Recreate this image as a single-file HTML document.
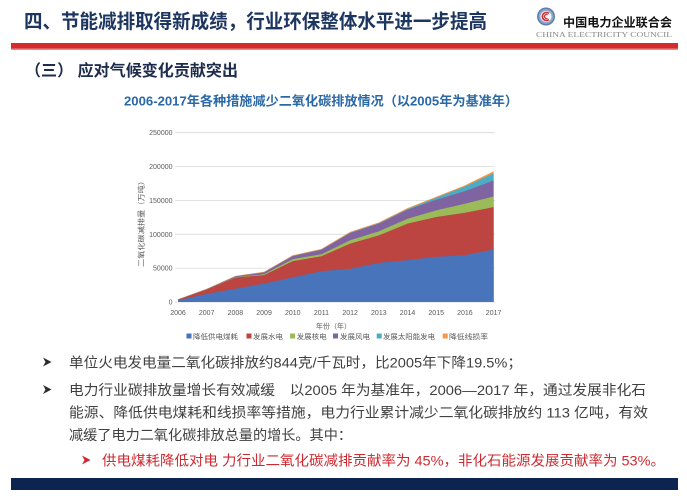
<!DOCTYPE html>
<html>
<head>
<meta charset="utf-8">
<style>
  html,body{margin:0;padding:0;background:#fff;}
  svg{display:block;}
  .cjk{font-family:"Liberation Sans","Noto Sans CJK SC",sans-serif;}
  .ax{font-family:"Liberation Sans","Noto Sans CJK SC",sans-serif;font-size:7px;fill:#595959;}
</style>
</head>
<body>
<svg width="687" height="501" viewBox="0 0 687 501" xmlns="http://www.w3.org/2000/svg">
  <rect x="0" y="0" width="687" height="501" fill="#ffffff"/>

  <!-- Header title -->
  <text class="cjk" x="24" y="27.8" font-size="19.5" font-weight="bold" fill="#1d3660" textLength="463" lengthAdjust="spacingAndGlyphs">四、节能减排取得新成绩，行业环保整体水平进一步提高</text>

  <!-- Logo -->
  <circle cx="546" cy="16.5" r="9" fill="#5b7eae"/>
  <circle cx="546" cy="16.5" r="7.5" fill="#8fa7c8"/>
  <circle cx="546" cy="16.5" r="5.5" fill="#f4f4f4"/>
  <path d="M549 13.5 A4 4 0 1 0 549 19.5" fill="none" stroke="#c8323a" stroke-width="1.6"/>
  <path d="M547.5 14.8 A2 2 0 1 0 547.5 18.2" fill="none" stroke="#c8323a" stroke-width="1.2"/>
  <text class="cjk" x="563" y="26.5" font-size="12" font-weight="bold" fill="#111" textLength="109" lengthAdjust="spacingAndGlyphs">中国电力企业联合会</text>
  <text x="536" y="37.2" font-family="'Liberation Serif',serif" font-size="7.5" fill="#8a8a8a" textLength="136" lengthAdjust="spacingAndGlyphs">CHINA ELECTRICITY COUNCIL</text>

  <!-- Red bar -->
  <rect x="11" y="43" width="667" height="6.5" fill="#d42b2c"/>
  <rect x="11" y="48.5" width="667" height="1.5" fill="#e88a8a"/>

  <!-- Section header -->
  <text class="cjk" x="25" y="76" font-size="16" font-weight="bold" fill="#1e2c4c" textLength="213" lengthAdjust="spacingAndGlyphs">（三） 应对气候变化贡献突出</text>

  <!-- Chart title -->
  <text class="cjk" x="124" y="105.3" font-size="13" font-weight="bold" fill="#2b68a6" textLength="394" lengthAdjust="spacingAndGlyphs">2006-2017年各种措施减少二氧化碳排放情况（以2005年为基准年）</text>

  <!-- Gridlines -->
  <g stroke="#d9d9d9" stroke-width="0.8">
    <line x1="175" y1="132.7" x2="495" y2="132.7"/>
    <line x1="175" y1="166.6" x2="495" y2="166.6"/>
    <line x1="175" y1="200.4" x2="495" y2="200.4"/>
    <line x1="175" y1="234.3" x2="495" y2="234.3"/>
    <line x1="175" y1="268.1" x2="495" y2="268.1"/>
    <line x1="175" y1="302" x2="495" y2="302"/>
  </g>

  <!-- Stacked areas -->
  <polygon fill="#f79646" points="178,299.22 206.69,288.73 235.38,275.87 264.07,271.74 292.76,255.29 321.45,248.92 350.14,231.93 378.83,222.38 407.52,208.17 436.21,196.73 464.9,185.42 493.59,171.27 493.59,302 178,302"/>
  <polygon fill="#4bacc6" points="178,299.5 206.69,289.14 235.38,276.41 264.07,272.35 292.76,255.96 321.45,249.67 350.14,232.74 378.83,223.27 407.52,209.12 436.21,197.74 464.9,186.5 493.59,173.23 493.59,302 178,302"/>
  <polygon fill="#8064a2" points="178,299.5 206.69,289.14 235.38,276.48 264.07,272.42 292.76,256.1 321.45,249.8 350.14,233.01 378.83,223.67 407.52,209.72 436.21,199.77 464.9,191.18 493.59,180.55 493.59,302 178,302"/>
  <polygon fill="#9bbb59" points="178,299.56 206.69,289.34 235.38,277.15 264.07,274.31 292.76,259.15 321.45,254.2 350.14,240.26 378.83,231.32 407.52,218.73 436.21,210.4 464.9,203.77 493.59,196.46 493.59,302 178,302"/>
  <polygon fill="#bd4541" points="178,299.63 206.69,289.48 235.38,277.56 264.07,275.12 292.76,261.18 321.45,256.23 350.14,243.58 378.83,235.32 407.52,223.67 436.21,217.04 464.9,212.7 493.59,207.08 493.59,302 178,302"/>
  <polygon fill="#4774ba" points="178,300.31 206.69,293.88 235.38,288.73 264.07,283.59 292.76,277.42 321.45,271.13 350.14,268.83 378.83,262.87 407.52,260.16 436.21,256.84 464.9,255.22 493.59,249.53 493.59,302 178,302"/>

  <!-- Y axis labels -->
  <g class="ax" text-anchor="end">
    <text x="172.5" y="304.5">0</text>
    <text x="172.5" y="270.6">50000</text>
    <text x="172.5" y="236.8">100000</text>
    <text x="172.5" y="202.9">150000</text>
    <text x="172.5" y="169.1">200000</text>
    <text x="172.5" y="135.2">250000</text>
  </g>

  <!-- X axis labels -->
  <g class="ax" text-anchor="middle">
    <text x="178" y="315">2006</text>
    <text x="206.69" y="315">2007</text>
    <text x="235.38" y="315">2008</text>
    <text x="264.07" y="315">2009</text>
    <text x="292.76" y="315">2010</text>
    <text x="321.45" y="315">2011</text>
    <text x="350.14" y="315">2012</text>
    <text x="378.83" y="315">2013</text>
    <text x="407.52" y="315">2014</text>
    <text x="436.21" y="315">2015</text>
    <text x="464.9" y="315">2016</text>
    <text x="493.59" y="315">2017</text>
  </g>

  <!-- Axis titles -->
  <text class="ax" font-size="7.5" transform="translate(143.5,267) rotate(-90)" textLength="90" lengthAdjust="spacingAndGlyphs">二氧化碳减排量（万吨）</text>
  <text class="ax" font-size="7.5" x="316" y="328.7" textLength="35" lengthAdjust="spacingAndGlyphs">年份（年）</text>

  <!-- Legend -->
  <g class="ax" font-size="7.5">
    <rect x="186.5" y="333.5" width="5" height="5" fill="#4774ba"/>
    <text x="193" y="338.8" textLength="45" lengthAdjust="spacingAndGlyphs">降低供电煤耗</text>
    <rect x="246.5" y="333.5" width="5" height="5" fill="#bd4541"/>
    <text x="253" y="338.8" textLength="30" lengthAdjust="spacingAndGlyphs">发展水电</text>
    <rect x="290" y="333.5" width="5" height="5" fill="#9bbb59"/>
    <text x="296.7" y="338.8" textLength="30" lengthAdjust="spacingAndGlyphs">发展核电</text>
    <rect x="333" y="333.5" width="5" height="5" fill="#8064a2"/>
    <text x="340" y="338.8" textLength="30" lengthAdjust="spacingAndGlyphs">发展风电</text>
    <rect x="376.7" y="333.5" width="5" height="5" fill="#4bacc6"/>
    <text x="383" y="338.8" textLength="52" lengthAdjust="spacingAndGlyphs">发展太阳能发电</text>
    <rect x="442.7" y="333.5" width="5" height="5" fill="#f79646"/>
    <text x="449" y="338.8" textLength="39" lengthAdjust="spacingAndGlyphs">降低线损率</text>
  </g>

  <!-- Bullets -->
  <polygon fill="#2b2b2b" points="43,357.5 51.5,362 43,366.5 45.5,362"/>
  <text class="cjk" x="69" y="367.3" font-size="14" fill="#404040" textLength="453" lengthAdjust="spacingAndGlyphs">单位火电发电量二氧化碳排放约844克/千瓦时，比2005年下降19.5%；</text>

  <polygon fill="#2b2b2b" points="43,385 51.5,389.5 43,394 45.5,389.5"/>
  <text class="cjk" x="69" y="394.8" font-size="14" fill="#404040" textLength="577" lengthAdjust="spacingAndGlyphs">电力行业碳排放量增长有效减缓　以2005 年为基准年，2006—2017 年，通过发展非化石</text>
  <text class="cjk" x="69" y="417.5" font-size="14" fill="#404040" textLength="579" lengthAdjust="spacingAndGlyphs">能源、降低供电煤耗和线损率等措施，电力行业累计减少二氧化碳排放约 113 亿吨，有效</text>
  <text class="cjk" x="69" y="440" font-size="14" fill="#404040" textLength="283" lengthAdjust="spacingAndGlyphs">减缓了电力二氧化碳排放总量的增长。其中：</text>

  <polygon fill="#d0262d" points="82,455.5 90.5,460 82,464.5 84.5,460"/>
  <text class="cjk" x="102" y="465.3" font-size="14" fill="#cc2a30" textLength="563" lengthAdjust="spacingAndGlyphs">供电煤耗降低对电 力行业二氧化碳减排贡献率为 45%，非化石能源发展贡献率为 53%。</text>

  <!-- Bottom navy bar -->
  <rect x="11" y="478" width="667" height="12" fill="#0c2550"/>
</svg>
</body>
</html>
